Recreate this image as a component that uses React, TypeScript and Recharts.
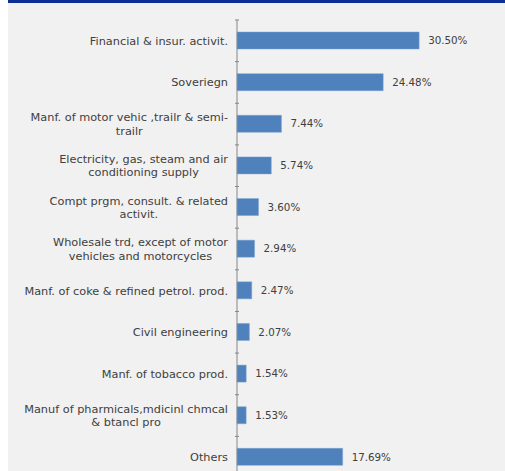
import { BarChart, Bar, XAxis, YAxis, LabelList } from "recharts";

const sectors = [
  "Financial & insur. activit.",
  "Soveriegn",
  "Manf. of motor vehic ,trailr & semi-\ntrailr",
  "Electricity, gas, steam and air\nconditioning supply",
  "Compt prgm, consult. & related\nactivit.",
  "Wholesale trd, except of motor\nvehicles and motorcycles",
  "Manf. of coke & refined petrol. prod.",
  "Civil engineering",
  "Manf. of tobacco prod.",
  "Manuf of pharmicals,mdicinl chmcal\n& btancl pro",
  "Others",
];
const shares = [30.5, 24.48, 7.44, 5.74, 3.6, 2.94, 2.47, 2.07, 1.54, 1.53, 17.69];

const data = sectors.map((name, i) => ({ name, value: shares[i] }));

const CHART_H = 478;
const TOP = 20;
const BAND = (CHART_H - TOP) / sectors.length;
const TEXT = "#404040";
const FONT = "'DejaVu Sans', sans-serif";
const FS = 11.3;

let ctx: CanvasRenderingContext2D | null = null;
function measure(s: string) {
  if (!ctx) ctx = document.createElement("canvas").getContext("2d");
  if (!ctx) return s.length * FS * 0.6;
  ctx.font = `${FS}px 'DejaVu Sans'`;
  return ctx.measureText(s).width;
}

function SectorTick({ x, y, payload }: any) {
  const lines: string[] = String(payload.value).split("\n");
  const lh = 13.6;
  const start = y - ((lines.length - 1) * lh) / 2;
  const w = Math.max(...lines.map(measure));
  const cx = x - 1 - w / 2;
  return (
    <g>
      <line x1={x + 6} x2={x + 10} y1={y - BAND / 2} y2={y - BAND / 2} stroke="#868686" />
      {lines.map((l, i) => (
        <text key={i} x={cx} y={start + i * lh} dy="0.35em" textAnchor="middle" fill={TEXT} fontSize={FS} fontFamily={FONT}>
          {l}
        </text>
      ))}
    </g>
  );
}

export default function App() {
  return (
    <div style={{ position: "absolute", left: 0, top: 0, width: 505, height: 471, overflow: "hidden", background: "#fff" }}>
      <div style={{ position: "absolute", left: 8, top: 0, width: 497, height: 471, background: "#f1f1f1" }} />
      <div style={{ position: "absolute", left: 8, top: 0, width: 497, height: 3, background: "#0c2f93" }} />
      <div style={{ position: "absolute", left: 0, top: 0 }}>
        <BarChart
          layout="vertical"
          width={505}
          height={CHART_H}
          data={data}
          margin={{ top: TOP, right: 59, bottom: 0, left: 0 }}
          barCategoryGap={0}
        >
          <XAxis type="number" domain={[0, 35]} hide />
          <YAxis
            type="category"
            dataKey="name"
            width={237}
            axisLine={{ stroke: "#868686" }}
            tickLine={false}
            tick={<SectorTick />}
            interval={0}
          />
          <Bar dataKey="value" fill="#4f81bd" stroke="#7da2d1" strokeWidth={0.5} barSize={17} isAnimationActive={false}>
            <LabelList
              dataKey="value"
              position="right"
              offset={9}
              formatter={(v: any) => `${Number(v).toFixed(2)}%`}
              fill={TEXT}
              fontSize={10.3}
              fontFamily={FONT}
            />
          </Bar>
        </BarChart>
      </div>
    </div>
  );
}
